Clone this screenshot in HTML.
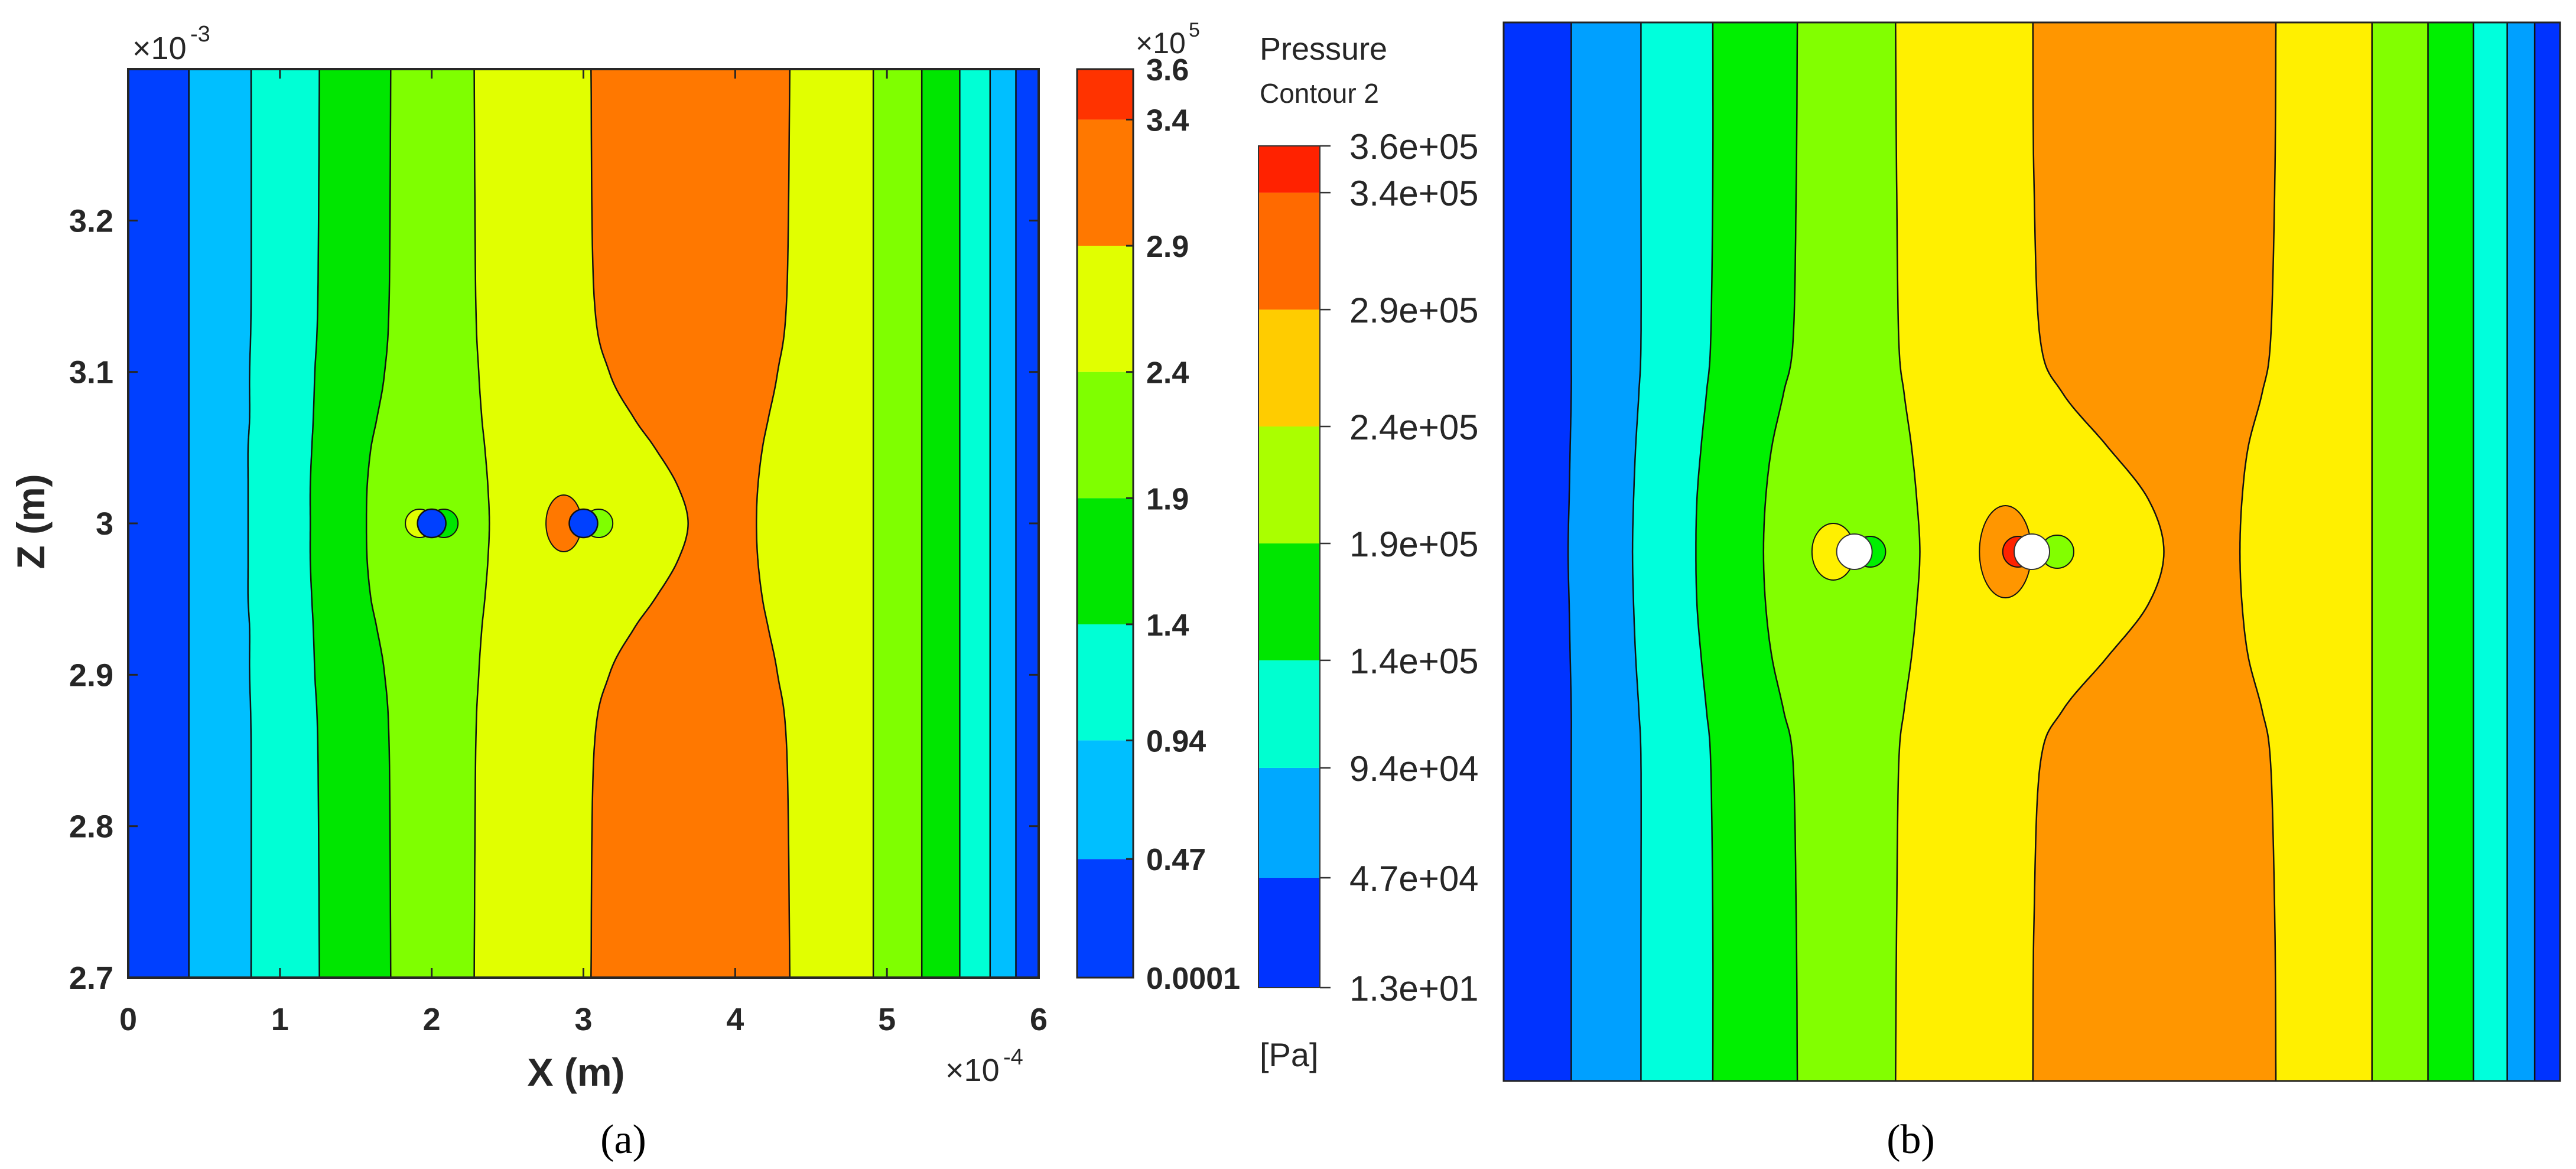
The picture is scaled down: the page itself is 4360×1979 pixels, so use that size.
<!DOCTYPE html>
<html><head><meta charset="utf-8"><style>
html,body{margin:0;padding:0;background:#fff}
svg{display:block}
text{font-family:"Liberation Sans",Arial,sans-serif;fill:#262626}
.b{font-weight:bold}
text.serif{font-family:"Liberation Serif",serif;fill:#000}
</style></head><body>
<svg id="fig" width="4360" height="1979" viewBox="0 0 4360 1979" xmlns="http://www.w3.org/2000/svg">
<g id="pa"></g>
<g id="pb"></g>
</svg>
<script>
// ---------- Panel (a) data ----------
const zA = [3.3,3.15,3.1,3.07,3.05,3.025,3.0,2.975,2.95,2.93,2.9,2.85,2.7];
const bA1 = [0.40,0.40,0.40,0.40,0.40,0.40,0.40,0.40,0.40,0.40,0.40,0.40,0.40];
const bA2 = [0.81,0.81,0.80,0.80,0.79,0.79,0.79,0.79,0.79,0.80,0.80,0.81,0.81];
const bA3 = [1.26,1.25,1.23,1.22,1.21,1.20,1.20,1.20,1.21,1.22,1.23,1.25,1.26];
const bA4 = [1.73,1.72,1.69,1.64,1.60,1.575,1.57,1.575,1.60,1.64,1.69,1.72,1.73];
const bA5 = [2.28,2.29,2.31,2.33,2.35,2.37,2.38,2.37,2.35,2.33,2.31,2.29,2.28];
const bA6 = [3.05,3.07,3.17,3.33,3.47,3.62,3.69,3.62,3.47,3.33,3.17,3.07,3.05];
const bA7 = [4.36,4.34,4.28,4.22,4.18,4.15,4.14,4.15,4.18,4.22,4.28,4.34,4.36];
const bA8 = [4.91,4.91,4.91,4.91,4.91,4.91,4.91,4.91,4.91,4.91,4.91,4.91,4.91];
const bA9 = [5.23,5.23,5.23,5.23,5.23,5.23,5.23,5.23,5.23,5.23,5.23,5.23,5.23];
const bA10 = [5.48,5.48,5.48,5.48,5.48,5.48,5.48,5.48,5.48,5.48,5.48,5.48,5.48];
const bA11 = [5.68,5.68,5.68,5.68,5.68,5.68,5.68,5.68,5.68,5.68,5.68,5.68,5.68];
const bA12 = [5.85,5.85,5.85,5.85,5.85,5.85,5.85,5.85,5.85,5.85,5.85,5.85,5.85];
const colorsA = ['#0040ff','#00bfff','#00ffd5','#00e600','#7fff00','#e1ff00','#ff7800','#e1ff00','#7fff00','#00e600','#00ffd5','#00bfff','#0040ff'];
const xTicksA = [0,1,2,3,4,5,6];
const zTicksA = [2.7,2.8,2.9,3.0,3.1,3.2];
const zTickLabelsA = ['2.7','2.8','2.9','3','3.1','3.2'];
const cbLevelsA = [0.0001,0.47,0.94,1.4,1.9,2.4,2.9,3.4,3.6];
const cbLabelsA = ['0.0001','0.47','0.94','1.4','1.9','2.4','2.9','3.4','3.6'];
const cbColorsA = ['#0040ff','#00bfff','#00ffd5','#00e600','#7fff00','#e1ff00','#ff7800','#ff3300'];
const cylXA = [2,3];
// ---------- Panel (b) data (normalized 0-100 across, fraction from top) ----------
const tB = [0,0.15,0.3,0.35,0.4,0.45,0.5,0.55,0.6,0.65,0.7,0.85,1];
const bB1 = [6.4,6.4,6.4,6.4,6.3,6.2,6.1,6.2,6.3,6.4,6.4,6.4,6.4];
const bB2 = [13.0,13.0,13.0,12.8,12.5,12.3,12.2,12.3,12.5,12.8,13.0,13.0,13.0];
const bB3 = [19.8,19.8,19.6,19.2,18.7,18.3,18.2,18.3,18.7,19.2,19.6,19.8,19.8];
const bB4 = [27.8,27.7,27.4,26.5,25.4,24.8,24.6,24.8,25.4,26.5,27.4,27.7,27.8];
const bB5 = [37.1,37.2,37.4,37.9,38.6,39.1,39.4,39.1,38.6,37.9,37.4,37.2,37.1];
const bB6 = [50.1,50.2,50.8,52.9,57.1,61.0,62.5,61.0,57.1,52.9,50.8,50.2,50.1];
const bB7 = [73.1,73.0,72.6,71.8,70.5,69.9,69.7,69.9,70.5,71.8,72.6,73.0,73.1];
const bB8 = [82.2,82.2,82.2,82.2,82.2,82.2,82.2,82.2,82.2,82.2,82.2,82.2,82.2];
const bB9 = [87.5,87.5,87.5,87.5,87.5,87.5,87.5,87.5,87.5,87.5,87.5,87.5,87.5];
const bB10 = [91.8,91.8,91.8,91.8,91.8,91.8,91.8,91.8,91.8,91.8,91.8,91.8,91.8];
const bB11 = [95.0,95.0,95.0,95.0,95.0,95.0,95.0,95.0,95.0,95.0,95.0,95.0,95.0];
const bB12 = [97.6,97.6,97.6,97.6,97.6,97.6,97.6,97.6,97.6,97.6,97.6,97.6,97.6];
const colorsB = ['#0033ff','#00a0ff','#00ffdc','#00f000','#82ff00','#fff000','#ff9600','#fff000','#82ff00','#00f000','#00ffdc','#00a0ff','#0033ff'];
const cbLevelsB = [13,47000,94000,140000,190000,240000,290000,340000,360000];
const cbLabelsB = ['1.3e+01','4.7e+04','9.4e+04','1.4e+05','1.9e+05','2.4e+05','2.9e+05','3.4e+05','3.6e+05'];
const cbColorsB = ['#0033ff','#00a8ff','#00ffd0','#00e600','#aaff00','#ffcc00','#ff6a00','#ff2200'];
const cylXB = [33.2,50.0];

const NS='http://www.w3.org/2000/svg';
function mk(parent,tag,attrs,txt){const e=document.createElementNS(NS,tag);for(const k in attrs)e.setAttribute(k,attrs[k]);if(txt!==undefined)e.textContent=txt;parent.appendChild(e);return e;}
function cr(pts){
  const out=[];
  for(let i=0;i<pts.length-1;i++){
    const p0=pts[Math.max(0,i-1)],p1=pts[i],p2=pts[i+1],p3=pts[Math.min(pts.length-1,i+2)];
    for(let s=0;s<12;s++){const t=s/12,t2=t*t,t3=t2*t;
      const f=(a,b,c,d)=>0.5*((2*b)+(-a+c)*t+(2*a-5*b+4*c-d)*t2+(-a+3*b-3*c+d)*t3);
      out.push([f(p0[0],p1[0],p2[0],p3[0]),f(p0[1],p1[1],p2[1],p3[1])]);}
  }
  out.push(pts[pts.length-1]);return out;
}
function drawContours(g,bounds,ys,colors,sx,sy,L,T,R,B,name){
  const rect=mk(g,'rect',{x:L,y:T,width:R-L,height:B-T,fill:colors[colors.length-1]});
  
  
  const lines=bounds.map(b=>cr(b.map((v,i)=>[sx(v),sy(ys[i])])));
  for(let i=bounds.length-1;i>=0;i--){
    const p=lines[i];
    let d='M'+L+','+T+' L'+p.map(q=>q[0].toFixed(1)+','+q[1].toFixed(1)).join(' L')+' L'+L+','+B+'Z';
    const band=mk(g,'path',{d:d,fill:colors[i]});
    
    
  }
  lines.forEach((p,i)=>{
    const ln=mk(g,'polyline',{points:p.map(q=>q[0].toFixed(1)+','+q[1].toFixed(1)).join(' '),fill:'none',stroke:'#111','stroke-width':2.5});
    
    
  });
}

// ===== Panel A =====
(function(){
  const g=document.getElementById('pa');
  const L=217,R=1758,T=117,B=1655;
  const sx=v=>L+(v/6)*(R-L), sy=z=>B-(z-2.7)/0.6*(B-T);
  drawContours(g,[bA1,bA2,bA3,bA4,bA5,bA6,bA7,bA8,bA9,bA10,bA11,bA12],zA,colorsA,sx,sy,L,T,R,B,'panel-a');
  const r=24;
  let c;
  c=mk(g,'circle',{cx:sx(cylXA[0]-0.08),cy:sy(3.0),r:r,fill:'#e1ff00',stroke:'#111','stroke-width':2});
   
  c=mk(g,'circle',{cx:sx(cylXA[0]+0.08),cy:sy(3.0),r:r,fill:'#00e600',stroke:'#111','stroke-width':2});
   
  c=mk(g,'ellipse',{cx:sx(cylXA[1]-0.13),cy:sy(3.0),rx:30,ry:48,fill:'#ff7800',stroke:'#111','stroke-width':2});
   
  c=mk(g,'circle',{cx:sx(cylXA[1]+0.1),cy:sy(3.0),r:r,fill:'#7fff00',stroke:'#111','stroke-width':2});
   
  cylXA.forEach(x=>{const cc=mk(g,'circle',{cx:sx(x),cy:sy(3.0),r:r,fill:'#0040ff',stroke:'#111','stroke-width':2.5});
     });
  const box=mk(g,'rect',{x:L,y:T,width:R-L,height:B-T,fill:'none',stroke:'#262626','stroke-width':4});
   
  xTicksA.forEach(v=>{const x=sx(v);
    mk(g,'line',{x1:x,y1:B,x2:x,y2:B-16,stroke:'#262626','stroke-width':3});
    mk(g,'line',{x1:x,y1:T,x2:x,y2:T+16,stroke:'#262626','stroke-width':3});
    const t=mk(g,'text',{x:x,y:1744,'font-size':54,'text-anchor':'middle',class:'b'},String(v));
     });
  zTicksA.forEach((z,i)=>{const y=sy(z);
    mk(g,'line',{x1:L,y1:y,x2:L+16,y2:y,stroke:'#262626','stroke-width':3});
    mk(g,'line',{x1:R,y1:y,x2:R-16,y2:y,stroke:'#262626','stroke-width':3});
    const t=mk(g,'text',{x:192,y:y+19,'font-size':54,'text-anchor':'end',class:'b'},zTickLabelsA[i]);
     });
  let t=mk(g,'text',{x:975,y:1838,'font-size':66,'text-anchor':'middle',class:'b'},'X (m)');
   
  t=mk(g,'text',{x:0,y:0,'font-size':66,'text-anchor':'middle',class:'b',transform:'translate(75,883) rotate(-90)'},'Z (m)');
   
  t=mk(g,'text',{x:1600,y:1830,'font-size':54},'×10');
   
  mk(g,'text',{x:1698,y:1802,'font-size':38},'-4');
  t=mk(g,'text',{x:224,y:100,'font-size':54},'×10');
   
  mk(g,'text',{x:322,y:70,'font-size':38},'-3');
  const cL=1823,cR=1918;
  const cy=v=>B-(v/3.6)*(B-T);
  for(let i=0;i<cbColorsA.length;i++){
    const y1=cy(cbLevelsA[i+1]),y0=cy(cbLevelsA[i]);
    const rr=mk(g,'rect',{x:cL,y:y1,width:cR-cL,height:y0-y1,fill:cbColorsA[i]});
     
  }
  mk(g,'rect',{x:cL,y:T,width:cR-cL,height:B-T,fill:'none',stroke:'#262626','stroke-width':3});
  cbLevelsA.forEach((v,i)=>{const y=cy(v);
    mk(g,'line',{x1:cR,y1:y,x2:cR-12,y2:y,stroke:'#262626','stroke-width':3});
    const tt=mk(g,'text',{x:1940,y:y+19,'font-size':52,class:'b'},cbLabelsA[i]);
     });
  t=mk(g,'text',{x:1922,y:90,'font-size':50},'×10');
   
  mk(g,'text',{x:2012,y:62,'font-size':34},'5');
  t=mk(g,'text',{x:1055,y:1952,'font-size':70,'text-anchor':'middle',class:'serif'},'(a)');
   
})();

// ===== Panel B =====
(function(){
  const g=document.getElementById('pb');
  const L=2545,R=4333,T=38,B=1830;
  const sx=v=>L+v/100*(R-L), sy=t=>T+t*(B-T);
  drawContours(g,[bB1,bB2,bB3,bB4,bB5,bB6,bB7,bB8,bB9,bB10,bB11,bB12],tB,colorsB,sx,sy,L,T,R,B,'panel-b');
  const r=30,yc=sy(0.5);
  let c;
  c=mk(g,'ellipse',{cx:sx(cylXB[0]-2.0),cy:yc,rx:36,ry:48,fill:'#fff000',stroke:'#111','stroke-width':2});
   
  c=mk(g,'circle',{cx:sx(cylXB[0]+1.5),cy:yc,r:26,fill:'#00f000',stroke:'#111','stroke-width':2});
   
  c=mk(g,'ellipse',{cx:sx(cylXB[1]-2.5),cy:yc,rx:44,ry:78,fill:'#ff9600',stroke:'#111','stroke-width':2});
   
  c=mk(g,'circle',{cx:sx(cylXB[1]-1.3),cy:yc,r:26,fill:'#ff2200',stroke:'#111','stroke-width':2});
   
  c=mk(g,'circle',{cx:sx(cylXB[1]+2.4),cy:yc,r:28,fill:'#82ff00',stroke:'#111','stroke-width':2});
   
  cylXB.forEach(x=>{const cc=mk(g,'circle',{cx:sx(x),cy:yc,r:r,fill:'#ffffff',stroke:'#333','stroke-width':2});
     });
  const box=mk(g,'rect',{x:L,y:T,width:R-L,height:B-T,fill:'none',stroke:'#222','stroke-width':3});
   
  let t=mk(g,'text',{x:2132,y:101,'font-size':54},'Pressure');
   
  t=mk(g,'text',{x:2132,y:174,'font-size':46},'Contour 2');
   
  const cL=2130,cR=2234,cT=247,cB=1672;
  const vs=cbLevelsB.length-1;
  const cy=i=>cT+(cB-cT)*(1-(cbLevelsB[i]-cbLevelsB[0])/(cbLevelsB[vs]-cbLevelsB[0]));
  for(let i=0;i<cbColorsB.length;i++){
    const y1=cy(i+1),y0=cy(i);
    const rr=mk(g,'rect',{x:cL,y:y1,width:cR-cL,height:y0-y1,fill:cbColorsB[i]});
     
  }
  mk(g,'rect',{x:cL,y:cT,width:cR-cL,height:cB-cT,fill:'none',stroke:'#333','stroke-width':2});
  cbLabelsB.forEach((s,i)=>{const y=cy(i);
    mk(g,'line',{x1:cR,y1:y,x2:cR+18,y2:y,stroke:'#333','stroke-width':2.5});
    const tt=mk(g,'text',{x:2284,y:y+22,'font-size':60},s);
     });
  t=mk(g,'text',{x:2132,y:1805,'font-size':56},'[Pa]');
   
  t=mk(g,'text',{x:3234,y:1952,'font-size':70,'text-anchor':'middle',class:'serif'},'(b)');
   
})();
</script>
</body></html>
